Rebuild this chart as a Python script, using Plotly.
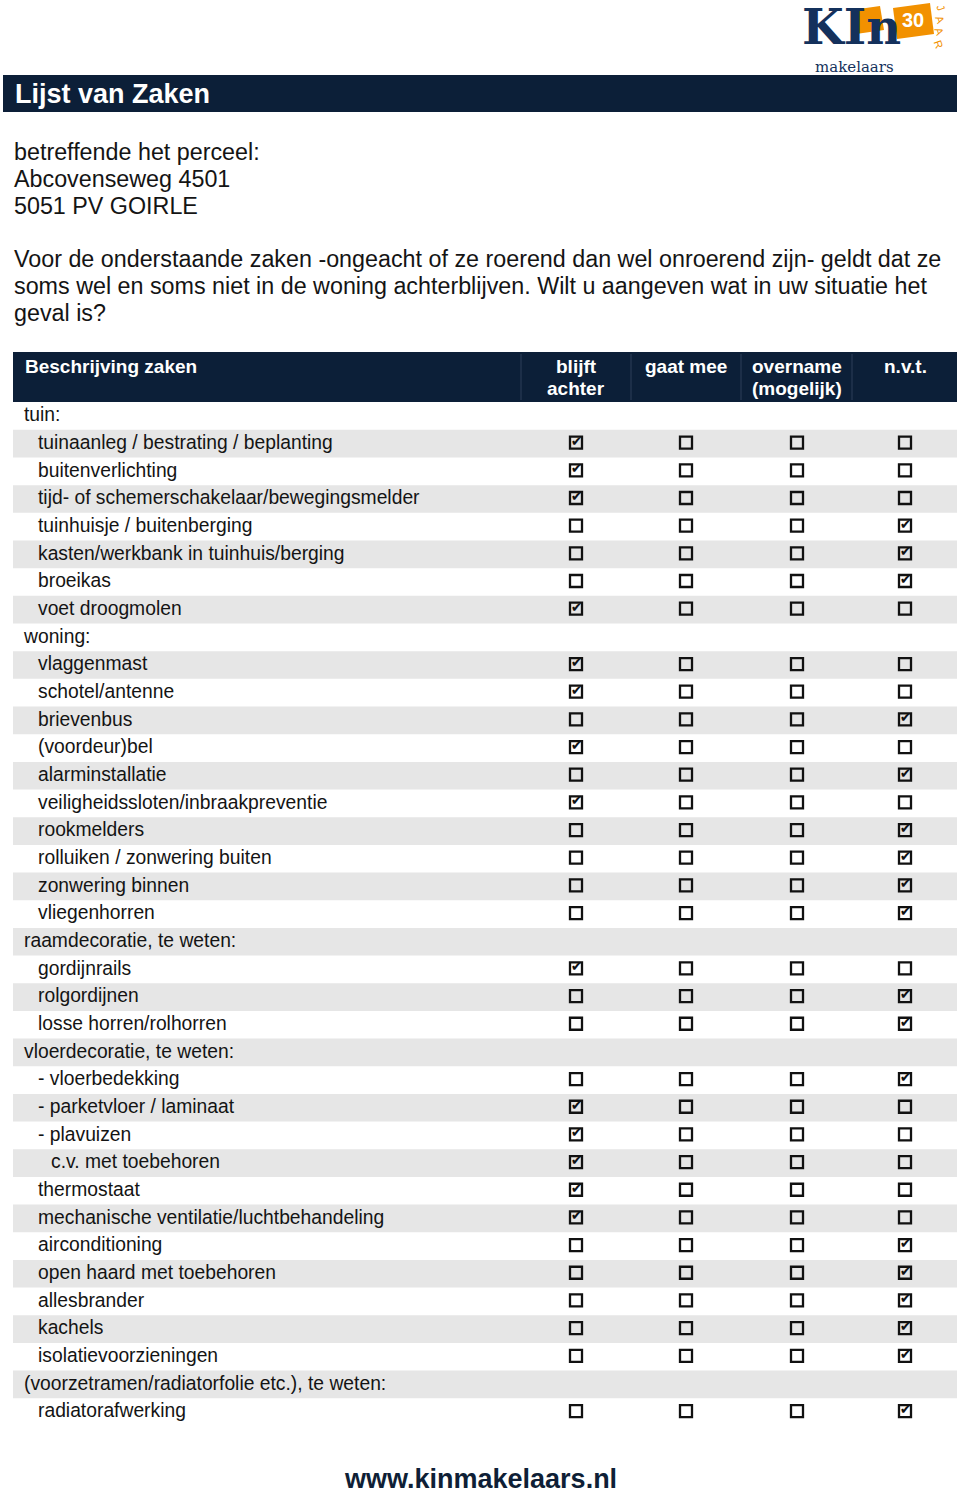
import plotly.graph_objects as go

# ---------------- data ----------------
title = "Lijst van Zaken"
address_lines = ["betreffende het perceel:", "Abcovenseweg 4501", "5051 PV GOIRLE"]
intro_lines = [
    "Voor de onderstaande zaken -ongeacht of ze roerend dan wel onroerend zijn- geldt dat ze",
    "soms wel en soms niet in de woning achterblijven. Wilt u aangeven wat in uw situatie het",
    "geval is?",
]
columns = [["blijft", "achter"], ["gaat mee"], ["overname", "(mogelijk)"], ["n.v.t."]]

labels = [
    "tuin:", "tuinaanleg / bestrating / beplanting", "buitenverlichting",
    "tijd- of schemerschakelaar/bewegingsmelder", "tuinhuisje / buitenberging",
    "kasten/werkbank in tuinhuis/berging", "broeikas", "voet droogmolen",
    "woning:", "vlaggenmast", "schotel/antenne", "brievenbus", "(voordeur)bel",
    "alarminstallatie", "veiligheidssloten/inbraakpreventie", "rookmelders",
    "rolluiken / zonwering buiten", "zonwering binnen", "vliegenhorren",
    "raamdecoratie, te weten:", "gordijnrails", "rolgordijnen", "losse horren/rolhorren",
    "vloerdecoratie, te weten:", "- vloerbedekking", "- parketvloer / laminaat", "- plavuizen",
    "c.v. met toebehoren", "thermostaat", "mechanische ventilatie/luchtbehandeling",
    "airconditioning", "open haard met toebehoren", "allesbrander", "kachels",
    "isolatievoorzieningen", "(voorzetramen/radiatorfolie etc.), te weten:", "radiatorafwerking",
]
row_kind = [
    "section", "item", "item", "item", "item", "item", "item", "item",
    "section", "item", "item", "item", "item", "item", "item", "item", "item", "item", "item",
    "section", "item", "item", "item",
    "section", "item", "item", "item", "sub", "item", "item",
    "item", "item", "item", "item", "item", "section", "item",
]
# index of the ticked column (0 = blijft achter, 3 = n.v.t.), None = no boxes
checked = [
    None, 0, 0, 0, 3, 3, 3, 0,
    None, 0, 0, 3, 0, 3, 0, 3, 3, 3, 3,
    None, 0, 3, 3,
    None, 3, 0, 0, 0, 0, 0,
    3, 3, 3, 3, 3, None, 3,
]
footer = "www.kinmakelaars.nl"

# ---------------- layout constants ----------------
W, H = 960, 1495
NAVY = "#0c1f38"
GRAY = "#e6e6e6"
TXT = "#141414"
FONT = "Liberation Sans, Arial, Helvetica, sans-serif"
row_y0, row_dy = 416.0, 27.67
col_x = [576, 686, 797, 905]
indent_x = {"section": 24, "item": 38, "sub": 51}

fig = go.Figure()
shapes = []
annotations = []


def ann(**kw):
    kw.setdefault("showarrow", False)
    kw.setdefault("xref", "x")
    kw.setdefault("yref", "y")
    annotations.append(kw)


# title bar
shapes.append(dict(type="rect", x0=3, x1=957, y0=75, y1=112, fillcolor=NAVY, line_width=0, layer="below"))
ann(x=13, y=94, text=f"<b>{title}</b>", xanchor="left", yanchor="middle",
    font=dict(family=FONT, size=27, color="white"))

for i, t in enumerate(address_lines):
    ann(x=12, y=152 + i * 27, text=t, xanchor="left", yanchor="middle",
        font=dict(family=FONT, size=23.3, color=TXT))
for i, t in enumerate(intro_lines):
    ann(x=12, y=259 + i * 27, text=t, xanchor="left", yanchor="middle",
        font=dict(family=FONT, size=23.3, color=TXT))

# table header
shapes.append(dict(type="rect", x0=13, x1=957, y0=352, y1=402, fillcolor=NAVY, line_width=0, layer="below"))
for sx in [521, 631, 741, 852]:
    shapes.append(dict(type="line", x0=sx, x1=sx, y0=354, y1=400, line=dict(color="#2c3f58", width=1)))
ann(x=23, y=366, text="<b>Beschrijving zaken</b>", xanchor="left", yanchor="middle",
    font=dict(family=FONT, size=19, color="white"))
for cx, lines in zip(col_x, columns):
    for k, c in enumerate(lines):
        ann(x=cx, y=366 + k * 22, text=f"<b>{c}</b>", xanchor="center", yanchor="middle",
            font=dict(family=FONT, size=19, color="white"))

# row backgrounds (alternating)
for i in range(len(labels)):
    if i % 2 == 1:
        yc = row_y0 + i * row_dy
        shapes.append(dict(type="rect", x0=13, x1=957, y0=yc - row_dy / 2, y1=yc + row_dy / 2,
                           fillcolor=GRAY, line_width=0, layer="below"))

# row labels
ys = [row_y0 + i * row_dy for i in range(len(labels))]
fig.add_trace(go.Scatter(
    x=[indent_x[k] for k in row_kind], y=[y + 0.5 for y in ys], text=labels, mode="text",
    textposition="middle right", textfont=dict(family=FONT, size=19.3, color=TXT),
    hoverinfo="skip", showlegend=False))

# checkboxes
bx, by, cx_, cy_ = [], [], [], []
for i, c in enumerate(checked):
    if c is None:
        continue
    for j, x in enumerate(col_x):
        bx.append(x)
        by.append(ys[i] - 1)
        if j == c:
            cx_.append(x + 0.5)
            cy_.append(ys[i] - 1.5)
fig.add_trace(go.Scatter(
    x=bx, y=by, mode="markers",
    marker=dict(symbol="square-open", size=12, color="#111111", line=dict(width=2.3, color="#111111")),
    hoverinfo="skip", showlegend=False))
fig.add_trace(go.Scatter(
    x=cx_, y=cy_, mode="text", text=["✔"] * len(cx_), textposition="middle center",
    textfont=dict(family="DejaVu Sans", size=14, color="#111111"),
    hoverinfo="skip", showlegend=False))

# footer
ann(x=480, y=1479, text=f"<b>{footer}</b>", xanchor="center", yanchor="middle",
    font=dict(family=FONT, size=27, color="#0f1f36"))

# logo
LOGO_NAVY = "#14315c"
ORANGE = "#f29100"
shapes.append(dict(type="path", path="M 852 10 L 880 6 L 884 30 L 856 34 Z", fillcolor=ORANGE, line_width=0))
shapes.append(dict(type="path", path="M 893 8 L 930 3 L 934 34 L 897 39 Z", fillcolor=ORANGE, line_width=0))
ann(x=800, y=27, text="<b>KIn</b>", xanchor="left", yanchor="middle",
    font=dict(family="DejaVu Serif", size=48, color=LOGO_NAVY))
ann(x=913, y=20, text="<b>30</b>", xanchor="center", yanchor="middle",
    font=dict(family=FONT, size=20, color="white"))
for k, ch in enumerate("JAAR"):
    ann(x=941 - k * 0.8, y=8 + k * 12, text=ch, xanchor="center", yanchor="middle",
        textangle=70, font=dict(family=FONT, size=11, color=ORANGE))
ann(x=854, y=67, text="makelaars", xanchor="center", yanchor="middle",
    font=dict(family="DejaVu Serif", size=15, color=LOGO_NAVY))

fig.update_layout(
    width=W, height=H, margin=dict(l=0, r=0, t=0, b=0),
    paper_bgcolor="white", plot_bgcolor="white",
    xaxis=dict(range=[0, W], visible=False, fixedrange=True),
    yaxis=dict(range=[H, 0], visible=False, fixedrange=True),
    shapes=shapes, annotations=annotations, showlegend=False,
)

fig.write_html("out.html", config={"displayModeBar": False},
               post_script="document.body.style.margin='0';")
